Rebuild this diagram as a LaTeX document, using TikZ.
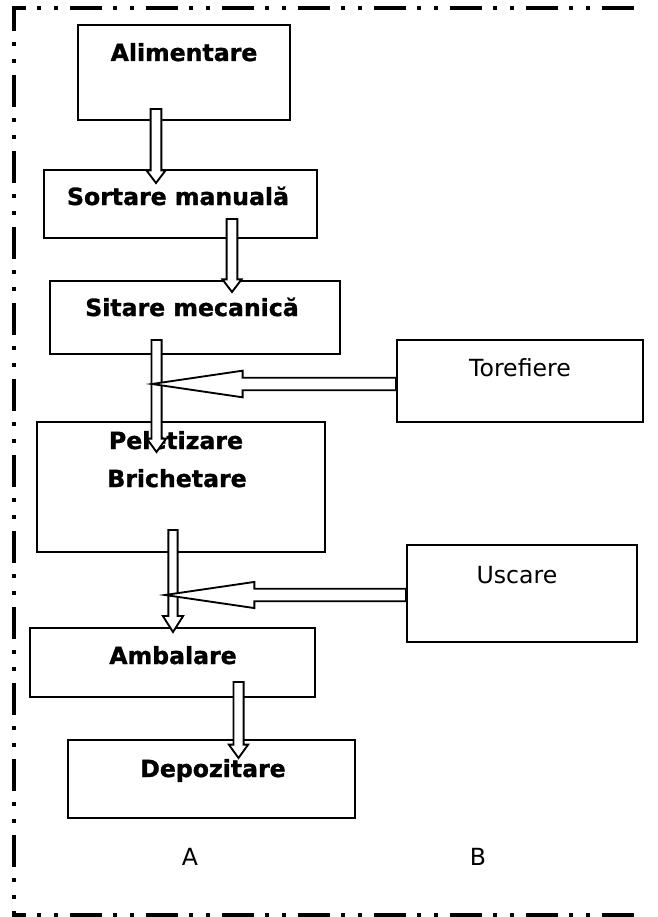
\documentclass[tikz,border=0pt]{standalone}
\usepackage{fontspec}
\setmainfont{DejaVu Sans}[BoldFeatures={FakeBold=1.2}]
\usetikzlibrary{calc,fit}

% hollow block arrow from #1 to the tip #2:
% #3 shaft half width, #4 head half width, #5 head length
\newcommand\blockarrow[5]{%
  \coordinate (#1-h) at ($(#2)!#5!(#1)$);
  \draw[arrowline]
    ($(#1)!#3!90:(#2)$) -- ($(#1-h)!#3!90:(#2)$) -- ($(#1-h)!#4!90:(#2)$)
    -- (#2) -- ($(#1-h)!#4!-90:(#2)$) -- ($(#1-h)!#3!-90:(#2)$)
    -- ($(#1)!#3!-90:(#2)$) -- cycle;
}

\tikzset{
  box/.style={draw, line width=1.4pt, inner sep=0pt},
  lbl/.style={anchor=base, font=\fontsize{17.7}{21}\selectfont\bfseries},
  plainlbl/.style={anchor=base, font=\fontsize{17.7}{21}\selectfont},
  arrowline/.style={draw=black, fill=white, line width=1.4pt, line join=miter},
  frameline/.style={line width=3pt, line cap=butt,
    dash pattern=on 24pt off 8.25pt on 3pt off 9.75pt on 3pt off 9pt}
}

\begin{document}
\begin{tikzpicture}[x=0.75pt, y=-0.75pt]
  \useasboundingbox (0,0) rectangle (657,917);
  % dash-dot-dot frame (open on the right)
  \draw[frameline, dash phase=15pt] (14,8) -- (640,8);
  \draw[frameline, dash phase=5.25pt] (14,6) -- (14,917);
  \draw[frameline, dash phase=15pt] (14,915) -- (640,915);

  % process boxes
  \node[box, fit={(78,25) (290,120)}] (alim) {};
  \node[box, fit={(44,170) (317,238)}] (sort) {};
  \node[box, fit={(50,281) (340,354)}] (sit) {};
  \node[box, fit={(37,422) (325,552)}] (pel) {};
  \node[box, fit={(30,628) (315,697)}] (amb) {};
  \node[box, fit={(68,740) (355,818)}] (dep) {};
  \node[box, fit={(397,340) (643,422)}] (tor) {};
  \node[box, fit={(407,545) (637,642)}] (usc) {};

  % box texts
  \node[lbl] (talim) at (184,61) {Alimentare};
  \node[lbl] (tsort) at (178,205) {Sortare manuală};
  \node[lbl] (tsit) at (192,316) {Sitare mecanică};
  \node[lbl] (tpel1) at (176,449) {Peletizare};
  \node[lbl] (tpel2) at (177,487) {Brichetare};
  \node[lbl] (tamb) at (173,664) {Ambalare};
  \node[lbl] (tdep) at (213,777) {Depozitare};
  \node[plainlbl] (ttor) at (520,376) {Torefiere};
  \node[plainlbl] (tusc) at (517,583) {Uscare};
  \node[plainlbl] (ta) at (190,865) {A};
  \node[plainlbl] (tb) at (478,865) {B};

  % flow arrows
  \coordinate (a1) at (156,109);   \coordinate (a1t) at (156,183);
  \coordinate (a2) at (232,219);   \coordinate (a2t) at (232,292);
  \coordinate (a3) at (156.5,340); \coordinate (a3t) at (156.5,452);
  \coordinate (a4) at (173,530);   \coordinate (a4t) at (173,632);
  \coordinate (a5) at (238.5,682); \coordinate (a5t) at (238.5,758);
  \coordinate (h1) at (tor.west |- 0,384); \coordinate (h1t) at (152,384);
  \coordinate (h2) at (usc.west |- 0,595); \coordinate (h2t) at (165,595);

  \blockarrow{a1}{a1t}{4pt}{7.2pt}{9.5pt}
  \blockarrow{a2}{a2t}{4pt}{7.2pt}{9.5pt}
  \blockarrow{a3}{a3t}{3.8pt}{7.2pt}{10pt}
  \blockarrow{a4}{a4t}{3.5pt}{7.6pt}{12pt}
  \blockarrow{a5}{a5t}{3.8pt}{7.2pt}{10pt}
  \blockarrow{h1}{h1t}{4.7pt}{10pt}{68pt}
  \blockarrow{h2}{h2t}{4.7pt}{9.8pt}{67pt}
\end{tikzpicture}
\end{document}
